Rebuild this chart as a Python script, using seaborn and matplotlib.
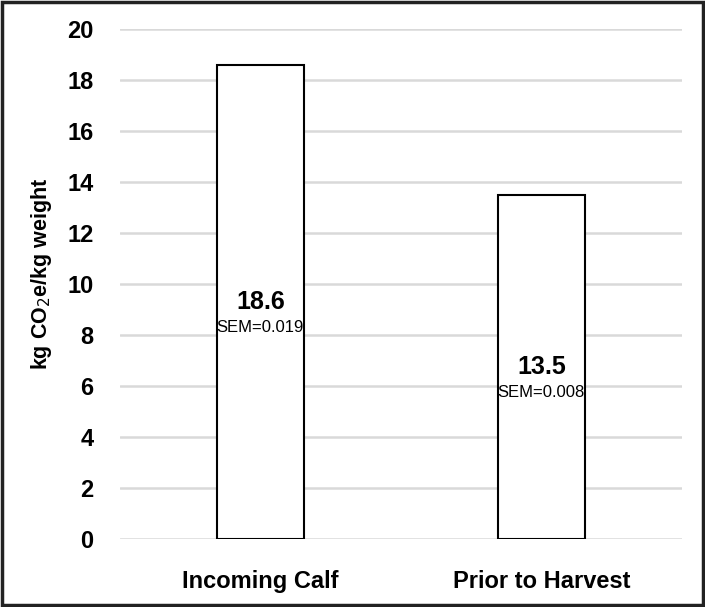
import pandas as pd
import matplotlib.pyplot as plt
import seaborn as sns
from matplotlib.patches import Rectangle

stages = ["Incoming Calf", "Prior to Harvest"]
emissions = [18.6, 13.5]
sem = [0.019, 0.008]
yticks = [0, 2, 4, 6, 8, 10, 12, 14, 16, 18, 20]

df = pd.DataFrame({"Stage": stages, "CO2e": emissions, "SEM": sem})

sns.set_style("white")
plt.rcParams['font.family'] = ['Liberation Sans', 'DejaVu Sans']
plt.rcParams['text.color'] = 'black'
plt.rcParams['xtick.color'] = 'black'
plt.rcParams['ytick.color'] = 'black'
plt.rcParams['axes.labelcolor'] = 'black'

fig = plt.figure(figsize=(7.05, 6.07), dpi=100)
ax = fig.add_axes([0.170, 0.112, 0.797, 0.840])

sns.barplot(data=df, x="Stage", y="CO2e", color="white", edgecolor="black",
            linewidth=1.5, width=0.31, ax=ax, zorder=3)

for i, row in df.iterrows():
    mid = row["CO2e"] / 2
    ax.text(i, mid, f"{row['CO2e']:.1f}", ha="center", va="center",
            fontsize=18, fontweight="bold", zorder=4)
    ax.text(i, mid - 1.0, f"SEM={row['SEM']:.3f}", ha="center", va="center",
            fontsize=12, zorder=4)

ax.set_ylim(0, 20)
ax.set_yticks(yticks)
ax.yaxis.grid(True, color="#d9d9d9", linewidth=1.8, zorder=0)
ax.set_axisbelow(True)
for s in ax.spines.values():
    s.set_visible(False)
ax.tick_params(axis="both", length=0, labelsize=17)
ax.tick_params(axis="y", pad=19)
ax.tick_params(axis="x", pad=22)
for lbl in ax.get_xticklabels() + ax.get_yticklabels():
    lbl.set_fontweight("bold")
ax.set_xlabel("")
ax.set_ylabel(r"kg CO$_2$e/kg weight", fontsize=15.5, fontweight="bold")
ax.yaxis.set_label_coords(-0.117, 0.52)

fig.patches.append(Rectangle((0.003, 0.003), 0.994, 0.994, transform=fig.transFigure,
                             fill=False, edgecolor="#222222", linewidth=2.5))

fig.savefig("out.png", dpi=100)
